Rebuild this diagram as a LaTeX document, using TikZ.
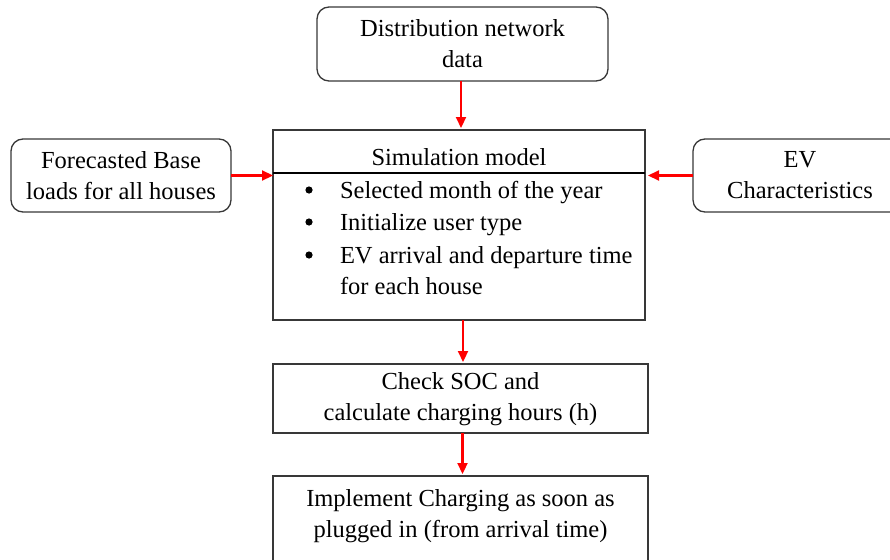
\documentclass[tikz,border=0pt]{standalone}
\usepackage{fontspec}
\setmainfont{Liberation Serif}
\usetikzlibrary{arrows.meta}
\begin{document}
\begin{tikzpicture}[x=1pt,y=-1pt,
  every node/.style={inner sep=0pt,outer sep=0pt},
  roundbox/.style={draw=black!78,line width=1.3pt,rounded corners=12pt,rectangle},
  plainbox/.style={draw=black!78,line width=1.3pt,rectangle},
  txt/.style={align=center,font=\fontsize{24.5}{31}\selectfont},
  flow/.style={draw=red,line width=2.2pt,-{Triangle[length=11pt,width=10pt]}}]
  \useasboundingbox (0,0) rectangle (890,559);
  \clip (0,0) rectangle (890,559);

  % input boxes
  \node[roundbox,minimum width=291pt,minimum height=74pt] (dist) at (462.5,44) {};
  \node[txt] (distt) at (462.5,44) {Distribution network\\data};

  \node[roundbox,minimum width=220pt,minimum height=73pt] (base) at (121,175.5) {};
  \node[txt] (baset) at (121,175.5) {Forecasted Base\\loads for all houses};

  \node[roundbox,minimum width=214pt,minimum height=73pt] (ev) at (800,175.5) {};
  \node[txt] (evt) at (800,175.5) {EV\\Characteristics};

  % simulation model with header divider
  \node[plainbox,minimum width=372pt,minimum height=190pt] (sim) at (459,225) {};
  \node[txt] (simt) at (459,157) {Simulation model};
  \draw[line width=2.6pt,black] (sim.west |- 0,173) coordinate (dl) -- (sim.east |- 0,173) coordinate (dr);
  \node[txt,anchor=base west] (b1) at (340,198) {Selected month of the year};
  \node[txt,anchor=base west] (b2) at (340,230) {Initialize user type};
  \node[txt,anchor=base west] (b3) at (340,263) {EV arrival and departure time};
  \node[txt,anchor=base west] (b4) at (340,294) {for each house};
  \foreach \y/\n in {190/d1,222/d2,255/d3}
    \fill (309,\y) circle (3.6pt) coordinate (\n);

  % process boxes
  \node[plainbox,minimum width=375pt,minimum height=69pt] (check) at (460.5,398.5) {};
  \node[txt] (checkt) at (460.5,399) {Check SOC and\\calculate charging hours (h)};

  \node[plainbox,minimum width=375pt,minimum height=110pt] (impl) at (460.5,531) {};
  \node[txt] (implt) at (460.5,516) {Implement Charging as soon as\\plugged in (from arrival time)};

  % connectors
  \draw[flow,shorten >=2pt] ([xshift=-1.5pt]dist.south) -- ([xshift=-1.5pt]dist.south |- sim.north);
  \draw[flow] (base.east) -- (sim.west |- base.east);
  \draw[flow] (ev.west) -- (check.east |- ev.west);
  \draw[flow,shorten >=2pt] ([xshift=4pt]sim.south) -- ([xshift=4pt]sim.south |- check.north);
  \draw[flow,shorten >=2pt] ([xshift=2pt]check.south) -- ([xshift=2pt]check.south |- impl.north);
\end{tikzpicture}
\end{document}
